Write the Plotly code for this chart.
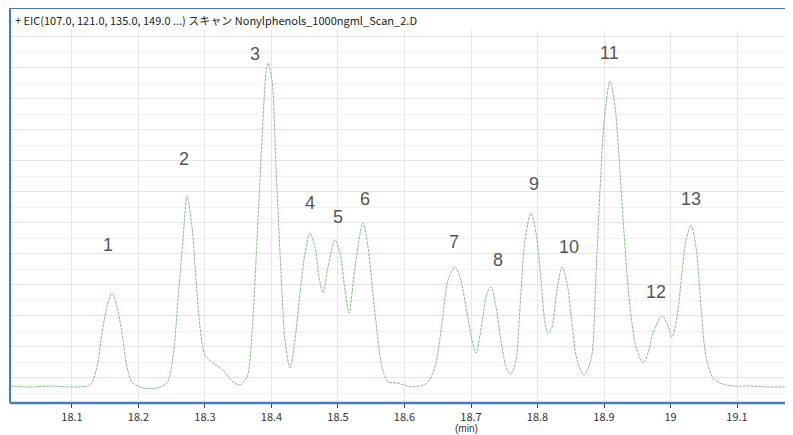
import plotly.graph_objects as go

# Retention time (min) and signal (arbitrary units, x10^4 counts)
time_min = [
    18.0068, 18.0368, 18.0669, 18.1045, 18.1271, 18.1376, 18.1451, 18.1526, 18.1602, 18.1677,
    18.1752, 18.1827, 18.1902, 18.2068, 18.2278, 18.2429, 18.2519, 18.2594, 18.2669, 18.2729,
    18.2805, 18.2865, 18.2925, 18.3000, 18.3120, 18.3271, 18.3421, 18.3526, 18.3632, 18.3707,
    18.3782, 18.3857, 18.3917, 18.3947, 18.4008, 18.4068, 18.4143, 18.4203, 18.4278, 18.4353,
    18.4429, 18.4504, 18.4579, 18.4654, 18.4714, 18.4775, 18.4850, 18.4955, 18.5030, 18.5105,
    18.5166, 18.5256, 18.5376, 18.5451, 18.5556, 18.5662, 18.5752, 18.5887, 18.6128, 18.6338,
    18.6459, 18.6564, 18.6654, 18.6760, 18.6835, 18.6925, 18.7015, 18.7075, 18.7166, 18.7241,
    18.7301, 18.7376, 18.7466, 18.7542, 18.7602, 18.7677, 18.7737, 18.7812, 18.7902, 18.7978,
    18.8053, 18.8113, 18.8158, 18.8218, 18.8293, 18.8369, 18.8444, 18.8519, 18.8594, 18.8699,
    18.8805, 18.8880, 18.8940, 18.9000, 18.9090, 18.9166, 18.9241, 18.9316, 18.9391, 18.9481,
    18.9587, 18.9662, 18.9737, 18.9872, 18.9947, 19.0023, 19.0098, 19.0173, 19.0233, 19.0308,
    19.0383, 19.0459, 19.0534, 19.0639, 19.0744, 19.0940, 19.1195, 19.1451, 19.1752, 19.1947,
]
signal = [
    0.45, 0.39, 0.45, 0.39, 0.52, 1.68, 3.87, 5.55, 6.45, 5.55,
    3.87, 1.68, 0.71, 0.32, 0.32, 0.65, 2.32, 6.00, 9.87, 12.71,
    10.71, 7.29, 4.26, 2.45, 1.94, 1.48, 0.71, 0.52, 1.03, 3.87,
    9.87, 16.32, 20.65, 21.29, 20.19, 14.58, 7.74, 3.42, 1.61, 3.42,
    6.45, 9.03, 10.32, 9.42, 7.48, 6.45, 8.13, 9.87, 9.03, 6.65,
    5.16, 8.13, 10.97, 9.42, 5.16, 1.68, 0.71, 0.65, 0.39, 0.65,
    1.68, 4.52, 7.29, 8.13, 7.48, 5.55, 3.42, 2.58, 4.52, 6.45,
    6.84, 5.55, 2.97, 1.48, 1.23, 2.13, 5.55, 9.87, 11.61, 10.32,
    7.29, 4.52, 3.87, 4.26, 6.65, 8.13, 7.10, 4.52, 2.13, 1.16,
    2.13, 7.74, 13.10, 17.42, 20.13, 18.45, 14.19, 9.42, 5.55, 2.97,
    1.94, 2.58, 3.87, 4.97, 4.52, 3.61, 4.90, 7.74, 9.87, 10.84,
    9.42, 5.55, 2.32, 0.97, 0.65, 0.45, 0.45, 0.39, 0.39, 0.32,
]

# Peak number labels and where they sit (data coordinates)
peak_labels = ["1", "2", "3", "4", "5", "6", "7", "8", "9", "10", "11", "12", "13"]
label_time = [18.154, 18.268, 18.375, 18.458, 18.500, 18.541, 18.674, 18.741, 18.795, 18.847, 18.909, 18.978, 19.031]
label_signal = [9.55, 15.10, 21.87, 12.26, 11.35, 12.52, 9.74, 8.58, 13.48, 9.42, 21.94, 6.52, 12.52]

x_ticks = [18.1, 18.2, 18.3, 18.4, 18.5, 18.6, 18.7, 18.8, 18.9, 19.0, 19.1]
x_tick_text = ["18.1", "18.2", "18.3", "18.4", "18.5", "18.6", "18.7", "18.8", "18.9", "19", "19.1"]

title_text = "+ EIC(107.0, 121.0, 135.0, 149.0 ...) スキャン Nonylphenols_1000ngml_Scan_2.D"

fig = go.Figure()
fig.add_trace(go.Scatter(
    x=time_min, y=signal, mode="lines",
    line=dict(color="#86bd86", width=1, shape="spline", smoothing=0.8, dash="3px,1px"),
    hoverinfo="skip", showlegend=False,
))

annotations = []
for txt, tx, ty in zip(peak_labels, label_time, label_signal):
    annotations.append(dict(
        x=tx, y=ty, xref="x", yref="y", text=txt, showarrow=False,
        font=dict(family="Liberation Sans, Arial, sans-serif", size=18, color="#555555"),
        xanchor="center", yanchor="middle",
    ))

annotations.append(dict(
    x=0, y=1.027, xref="paper", yref="paper", xshift=3, text=title_text, showarrow=False,
    font=dict(family="Noto Sans CJK JP, sans-serif", size=11, color="#222222"),
    xanchor="left", yanchor="middle",
))
annotations.append(dict(
    x=0.583, y=-0.0684, xref="paper", yref="paper", text="(min)", showarrow=False,
    font=dict(family="Liberation Sans, Arial, sans-serif", size=10, color="#333333"),
    xanchor="center", yanchor="middle",
))

border = "#4a78c2"
top_paper = 395 / 373
shapes = [
    dict(type="line", xref="paper", yref="paper", x0=0, x1=0, y0=0, y1=top_paper,
         line=dict(color=border, width=2)),
    dict(type="line", xref="paper", yref="paper", x0=0, x1=1.02, y0=top_paper, y1=top_paper,
         line=dict(color=border, width=2)),
    dict(type="line", xref="paper", yref="paper", x0=0, x1=1.02, y0=0, y1=0,
         line=dict(color=border, width=2.5)),
]

fig.update_layout(
    width=785, height=427,
    margin=dict(l=2, r=0, t=22, b=32),
    paper_bgcolor="white", plot_bgcolor="white",
    annotations=annotations, shapes=shapes,
    xaxis=dict(
        range=[18.0068, 19.1842], tickvals=x_ticks, ticktext=x_tick_text,
        showgrid=True, gridcolor="#e6e6e6", gridwidth=1, zeroline=False,
        ticks="outside", ticklen=4, tickcolor="#444444", showline=False,
        tickfont=dict(family="Noto Sans CJK JP, sans-serif", size=11, color="#333333"),
    ),
    yaxis=dict(
        range=[-0.645, 23.42], tickmode="linear", tick0=1, dtick=2,
        showgrid=True, gridcolor="#e6e6e6", gridwidth=1, zeroline=False,
        showticklabels=False, ticks="", showline=False,
        minor=dict(tickmode="linear", tick0=0, dtick=1, showgrid=True, gridcolor="#f1f1f1", ticks=""),
    ),
)

fig.write_html("out.html")
